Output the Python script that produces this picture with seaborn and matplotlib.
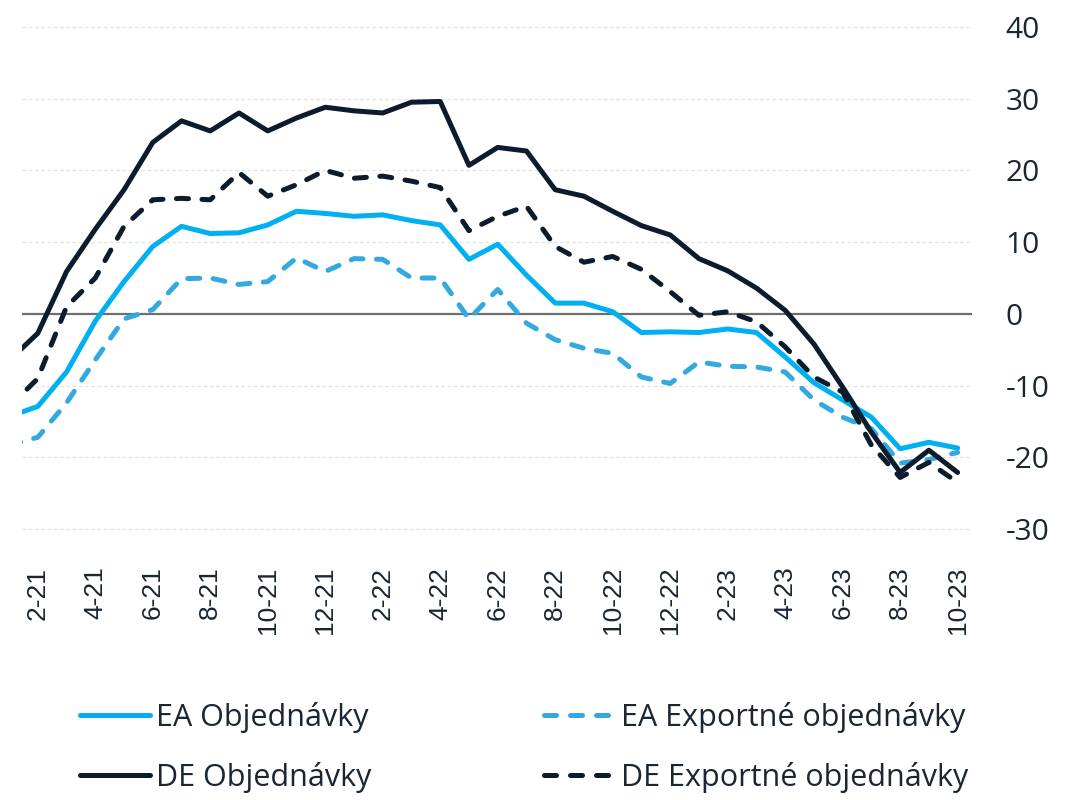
import matplotlib
matplotlib.use('Agg')
import matplotlib.pyplot as plt
from matplotlib.lines import Line2D
import pandas as pd
import seaborn as sns

# Data (monthly, 1-21 .. 10-23)
months = ['1-21', '2-21', '3-21', '4-21', '5-21', '6-21', '7-21', '8-21', '9-21',
          '10-21', '11-21', '12-21', '1-22', '2-22', '3-22', '4-22', '5-22', '6-22',
          '7-22', '8-22', '9-22', '10-22', '11-22', '12-22', '1-23', '2-23', '3-23',
          '4-23', '5-23', '6-23', '7-23', '8-23', '9-23', '10-23']
ea_obj = [-14.3, -12.9, -8.1, -1.0, 4.5, 9.4, 12.2, 11.2, 11.3, 12.4, 14.3, 14.0,
          13.6, 13.8, 13.0, 12.4, 7.6, 9.7, 5.4, 1.5, 1.5, 0.3, -2.6, -2.5,
          -2.6, -2.1, -2.6, -6.0, -9.6, -12.0, -14.4, -18.8, -17.9, -18.7]
ea_exp = [-18.3, -17.2, -12.4, -6.4, -0.7, 0.6, 4.9, 5.0, 4.1, 4.5, 7.8, 5.9,
          7.7, 7.6, 5.0, 5.0, -0.7, 3.4, -1.3, -3.6, -4.8, -5.5, -8.8, -9.7,
          -6.7, -7.3, -7.4, -8.1, -12.0, -14.4, -16.0, -20.8, -20.3, -19.3]
de_obj = [-6.5, -2.7, 5.9, 11.8, 17.3, 23.9, 26.9, 25.5, 28.0, 25.5, 27.3, 28.8,
          28.3, 28.0, 29.5, 29.6, 20.7, 23.2, 22.7, 17.3, 16.4, 14.3, 12.3, 11.0,
          7.7, 6.0, 3.6, 0.5, -4.2, -10.2, -16.5, -22.1, -19.0, -22.1]
de_exp = [-13.0, -9.0, 1.0, 5.0, 12.2, 15.9, 16.1, 15.9, 19.7, 16.4, 18.0, 20.0,
          18.9, 19.2, 18.5, 17.6, 11.6, 13.6, 15.0, 9.4, 7.2, 8.0, 6.2, 3.1,
          -0.2, 0.3, -1.1, -4.6, -8.8, -10.9, -18.3, -22.8, -20.7, -23.5]

series = {
    'EA Objednávky': ea_obj,
    'EA Exportné objednávky': ea_exp,
    'DE Objednávky': de_obj,
    'DE Exportné objednávky': de_exp,
}
colors = {
    'EA Objednávky': '#00B0F0',
    'EA Exportné objednávky': '#33A9E0',
    'DE Objednávky': '#0C1C2C',
    'DE Exportné objednávky': '#0C1C2C',
}
dashes = {
    'EA Objednávky': '',
    'EA Exportné objednávky': (2.4, 2.7),
    'DE Objednávky': '',
    'DE Exportné objednávky': (2.4, 2.7),
}
yticks = [-30, -20, -10, 0, 10, 20, 30, 40]

df = pd.concat([pd.DataFrame({'idx': range(len(months)), 'val': v, 'series': k})
                for k, v in series.items()], ignore_index=True)

sns.set_style('white')
plt.rcParams['font.family'] = ['Open Sans', 'DejaVu Sans']
text_col = '#1B2633'

fig = plt.figure(figsize=(10.77, 8), dpi=100)
ax = fig.add_axes([22 / 1077, 1 - 532 / 800, 950 / 1077, 508 / 800])

# grid + zero line
for y in yticks:
    if y == 0:
        ax.axhline(y, color='#6E6E6E', lw=1.6, zorder=1)
    else:
        ax.axhline(y, color='#E3E3E3', lw=0.9, ls=(0, (3, 2)), zorder=0)

order = ['EA Exportné objednávky', 'EA Objednávky', 'DE Exportné objednávky', 'DE Objednávky']
sns.lineplot(data=df, x='idx', y='val', hue='series', style='series',
             hue_order=order, style_order=order,
             palette=colors, dashes=dashes, lw=3.6, ax=ax, legend=False, zorder=3)
for line in ax.get_lines()[len(yticks):]:
    line.set_dash_capstyle('round')

ax.set_xlim(0.45, 33.5)
ax.set_ylim(-30.4, 40.4)
ax.set_xlabel('')
ax.set_ylabel('')
sns.despine(ax=ax, left=True, bottom=True)

ax.set_xticks(range(1, len(months), 2))
ax.set_xticklabels(months[1::2], rotation=90, fontsize=19,
                   family=['Liberation Sans', 'DejaVu Sans'], color=text_col)
ax.set_yticks(yticks)
ax.set_yticklabels([str(t) for t in yticks], fontsize=21.5, color=text_col)
ax.yaxis.tick_right()
ax.tick_params(axis='both', length=0)
ax.tick_params(axis='y', pad=24)
ax.tick_params(axis='x', pad=25)

# legend
leg_order = ['EA Objednávky', 'DE Objednávky', 'EA Exportné objednávky', 'DE Exportné objednávky']
handles = []
for k in leg_order:
    h = Line2D([], [], color=colors[k], lw=3.6, solid_capstyle='round', dash_capstyle='round')
    if dashes[k]:
        h.set_dashes((2.4, 2.8))
    handles.append(h)
fig.legend(handles, leg_order, loc='upper left', bbox_to_anchor=(80 / 1077, 1 - 702 / 800),
           ncol=2, frameon=False, fontsize=22, handlelength=2.3, handletextpad=0.2,
           columnspacing=5.65, labelspacing=0.95, borderpad=0, borderaxespad=0,
           labelcolor=text_col)

fig.savefig('out.png', dpi=100, facecolor='white')
